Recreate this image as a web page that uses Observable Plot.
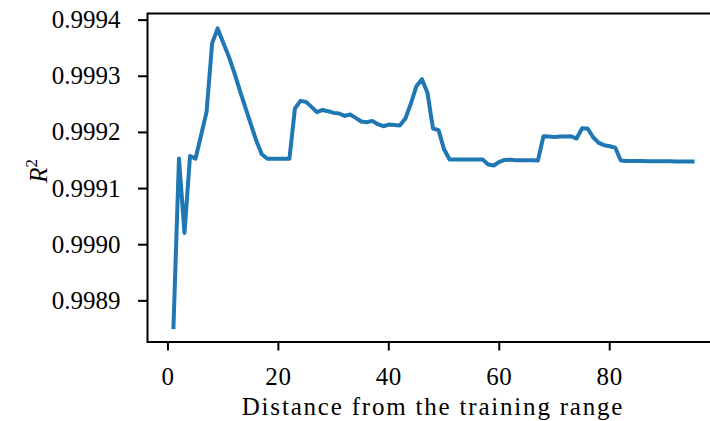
<!DOCTYPE html>
<html>
<head>
<meta charset="utf-8">
<script src="https://cdn.jsdelivr.net/npm/d3@7"></script>
<script src="https://cdn.jsdelivr.net/npm/@observablehq/plot@0.6"></script>
<style>
  html, body { margin: 0; padding: 0; background: white; overflow: hidden; }
  #chart { width: 710px; height: 421px; }
</style>
</head>
<body>
<div id="chart"></div>
<script>
const distance = [1,2,3,4,5,6,7,8,9,10,11,12,13,14,15,16,17,18,19,20,21,22,23,24,25,26,27,28,29,30,
  31,32,33,34,35,36,37,38,39,40,41,42,43,44,45,46,47,48,49,50,51,52,53,54,55,56,57,58,59,60,
  61,62,63,64,65,66,67,68,69,70,71,72,73,74,75,76,77,78,79,80,81,82,83,84,85,86,87,88,89,90,
  91,92,93,94,95];
const r2 = [0.9988533,0.9991534,0.9990210,0.9991581,0.9991534,0.9991950,0.9992366,0.9993585,0.9993852,0.9993600,
  0.9993358,0.9993070,0.9992752,0.9992449,0.9992152,0.9991850,0.9991610,0.9991530,0.9991530,0.9991530,
  0.9991530,0.9991530,0.9992426,0.9992562,0.9992544,0.9992455,0.9992360,0.9992400,0.9992378,0.9992348,
  0.9992337,0.9992294,0.9992319,0.9992259,0.9992194,0.9992182,0.9992205,0.9992146,0.9992110,0.9992140,
  0.9992134,0.9992123,0.9992247,0.9992515,0.9992824,0.9992948,0.9992705,0.9992070,0.9992040,0.9991700,
  0.9991517,0.9991517,0.9991517,0.9991517,0.9991517,0.9991517,0.9991517,0.9991428,0.9991410,0.9991475,
  0.9991510,0.9991513,0.9991505,0.9991505,0.9991503,0.9991502,0.9991500,0.9991932,0.9991927,0.9991920,
  0.9991927,0.9991927,0.9991932,0.9991891,0.9992075,0.9992070,0.9991914,0.9991813,0.9991772,0.9991754,
  0.9991730,0.9991500,0.9991492,0.9991490,0.9991490,0.9991489,0.9991488,0.9991488,0.9991487,0.9991486,
  0.9991485,0.9991484,0.9991484,0.9991483,0.9991482];
const xTicks = [0, 20, 40, 60, 80];
const xTickLabels = ["0", "20", "40", "60", "80"];
const yTicks = [0.9989, 0.9990, 0.9991, 0.9992, 0.9993, 0.9994];
const yTickLabels = ["0.9989", "0.9990", "0.9991", "0.9992", "0.9993", "0.9994"];
const xLabel = "Distance from the training range";
const yLabel = "R2";

const rows = distance.map((d, i) => ({distance: d, r2: r2[i]}));

const chart = Plot.plot({
  width: 710,
  height: 421,
  marginLeft: 147,
  marginRight: -8,
  marginTop: 13,
  marginBottom: 79.5,
  style: {fontFamily: "'Liberation Serif', serif", fontSize: "25px", background: "white", color: "black"},
  x: {domain: [-3.7, 99.7]},
  y: {domain: [0.9988267, 0.9994118]},
  marks: [
    Plot.line(rows, {x: "distance", y: "r2", stroke: "#1f77b4", strokeWidth: 4, strokeLinejoin: "round", strokeLinecap: "square"}),
    Plot.frame({stroke: "black", strokeWidth: 2}),
    Plot.axisX({ticks: xTicks, tickFormat: d => xTickLabels[xTicks.indexOf(d)], tickSize: 9, tickPadding: 16, strokeWidth: 2, label: null, fill: "black"}),
    Plot.axisY({ticks: yTicks, tickFormat: d => yTickLabels[yTicks.indexOf(d)], tickSize: 9, tickPadding: 18, strokeWidth: 2, label: null, fill: "black"}),
    Plot.text([xLabel], {text: d => d, frameAnchor: "bottom", dy: 72.5, lineAnchor: "bottom", fill: "black", fontSize: 25}),
    Plot.text([yLabel], {text: d => d, frameAnchor: "left", dx: -101, dy: 5, rotate: -90, lineAnchor: "bottom", fill: "black", fontSize: 25})
  ]
});
document.getElementById("chart").appendChild(chart);

// x tick labels: Computer Modern is a bit wider than Liberation Serif
d3.select(chart).selectAll("g[aria-label='x-axis tick label'] text").style("letter-spacing", "0.6px");

// Render the x label a bit wider and the R^2 label with italic R and superscript 2
d3.select(chart).selectAll("text").each(function() {
  if (this.textContent === xLabel) {
    d3.select(this).style("letter-spacing", "1.8px");
  }
  if (this.textContent === yLabel) {
    const t = d3.select(this);
    t.text(null);
    t.append("tspan").attr("font-style", "italic").text(yLabel[0]);
    t.append("tspan").attr("font-size", "17px").attr("dy", "-10").text(yLabel[1]);
  }
});
</script>
</body>
</html>
